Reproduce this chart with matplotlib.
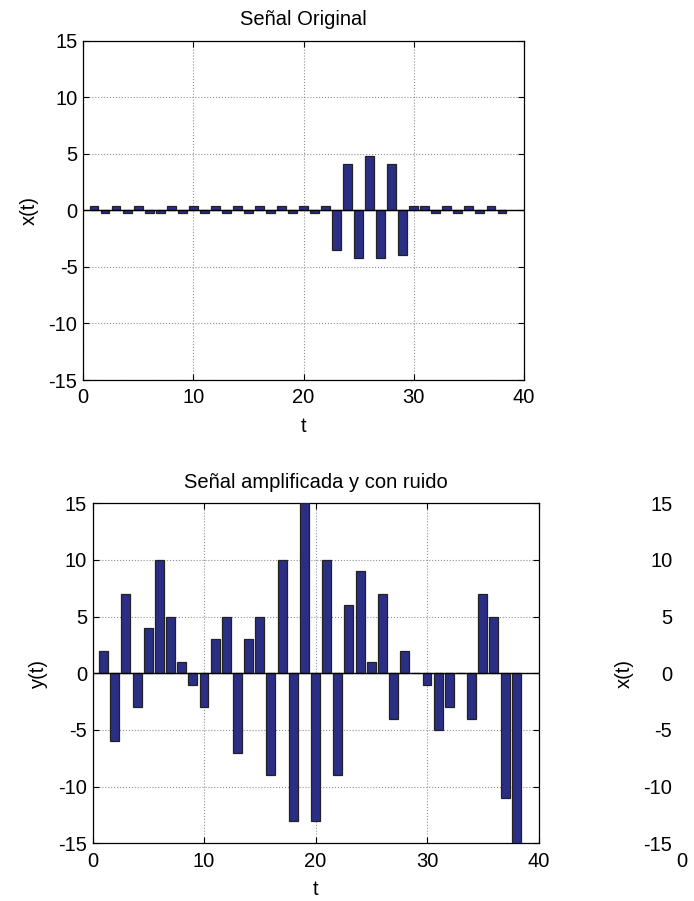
import matplotlib
matplotlib.use("Agg")
import matplotlib.pyplot as plt
import numpy as np

plt.rcParams['font.family'] = ['Liberation Sans', 'DejaVu Sans']
plt.rcParams['axes.unicode_minus'] = False

t = list(range(1, 39))
x_orig = [0.4, -0.25, 0.4, -0.25, 0.4, -0.25, -0.25, 0.4, -0.25, 0.4,
          -0.25, 0.4, -0.25, 0.4, -0.25, 0.4, -0.25, 0.4, -0.25, 0.4,
          -0.25, 0.4, -3.5, 4.1, -4.25, 4.8, -4.25, 4.1, -3.95, 0.4,
          0.4, -0.25, 0.4, -0.25, 0.4, -0.25, 0.4, -0.25]
y_noisy = [2, -6, 7, -3, 4, 10, 5, 1, -1, -3,
           3, 5, -7, 3, 5, -9, 10, -13, 15, -13,
           10, -9, 6, 9, 1, 7, -4, 2, 0, -1,
           -5, -3, 0, -4, 7, 5, -11, -15]
xticks = [0, 10, 20, 30, 40]
yticks = [-15, -10, -5, 0, 5, 10, 15]

BAR = '#2B2E85'
FS = 14.5

fig = plt.figure(figsize=(6.94, 9.01), dpi=100)
W, H = 694, 901

def px_axes(l, r, top, bot):
    return fig.add_axes([l / W, (H - bot) / H, (r - l) / W, (bot - top) / H])

def style(ax, title, ylabel):
    ax.set_xlim(0, 40)
    ax.set_ylim(-15, 15)
    ax.set_xticks(xticks)
    ax.set_yticks(yticks)
    ax.tick_params(direction='in', length=4, width=0.8, top=True, right=True,
                   labelsize=FS, colors='black')
    ax.tick_params(axis='x', pad=6)
    ax.tick_params(axis='y', pad=4)
    ax.grid(True, linestyle=':', color='#909090', linewidth=0.8)
    ax.set_axisbelow(True)
    for s in ax.spines.values():
        s.set_linewidth(0.9)
        s.set_color('black')
    ax.set_title(title, fontsize=FS, pad=11)
    ax.set_xlabel('t', fontsize=FS, labelpad=7)
    ax.set_ylabel(ylabel, fontsize=FS, labelpad=7)

ax1 = px_axes(83, 524, 40.5, 380)
ax1.bar(t, x_orig, width=0.8, color=BAR, edgecolor='#222222', linewidth=0.9, zorder=3)
ax1.axhline(0, color='black', linewidth=1.0, zorder=4)
style(ax1, 'Señal Original', 'x(t)')

ax2 = px_axes(92.5, 538.5, 503.3, 843.3)
ax2.bar(t, y_noisy, width=0.8, color=BAR, edgecolor='#222222', linewidth=0.9, zorder=3)
ax2.axhline(0, color='black', linewidth=1.0, zorder=4)
style(ax2, 'Señal amplificada y con ruido', 'y(t)')

# Third (cut-off) axes at right edge
ax3 = px_axes(682, 1130, 503.3, 843.3)
ax3.set_xlim(0, 40)
ax3.set_ylim(-15, 15)
ax3.set_xticks([0])
ax3.set_yticks(yticks)
ax3.tick_params(direction='in', length=0, labelsize=FS)
ax3.tick_params(axis='y', pad=7)
ax3.tick_params(axis='x', pad=6)
for s in ax3.spines.values():
    s.set_visible(False)
ax3.set_ylabel('x(t)', fontsize=FS, labelpad=7)

fig.savefig('out.png', dpi=100)
